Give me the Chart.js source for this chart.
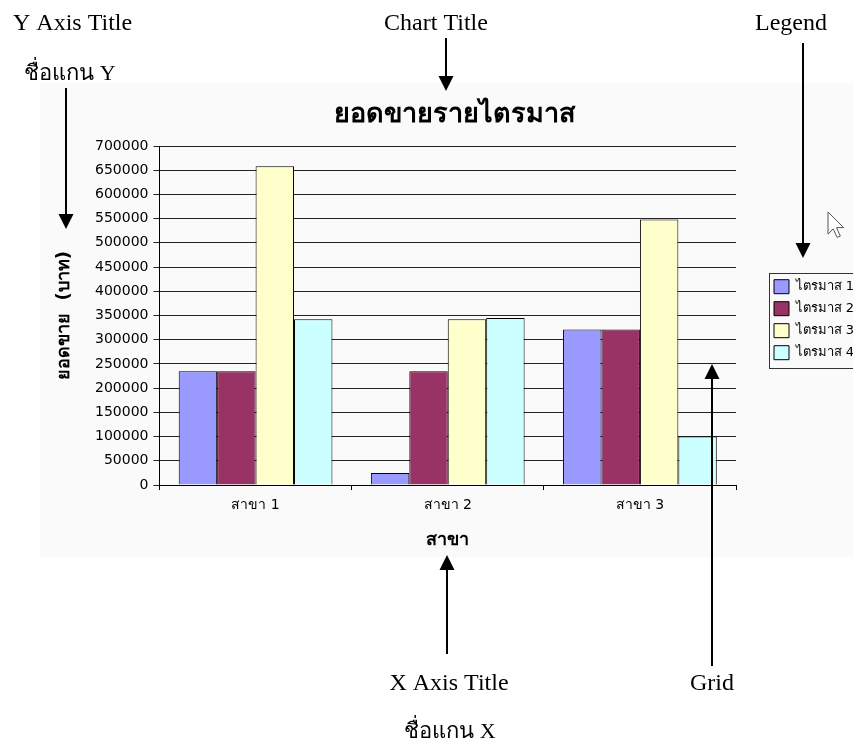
<!DOCTYPE html>
<html lang="th">
<head>
<meta charset="utf-8">
<title>ยอดขายรายไตรมาส</title>
<script src="https://cdn.jsdelivr.net/npm/chart.js@4.4.1/dist/chart.umd.min.js"></script>
<style>
  html, body { margin: 0; padding: 0; background: #fff; overflow: hidden; width: 853px; height: 746px; }
  #wrap { position: relative; width: 853px; height: 746px; overflow: hidden; }
  #wrap canvas { position: absolute; left: 0; top: 0; }
</style>
</head>
<body>
<div id="wrap"><canvas id="salesChart" width="868" height="746"></canvas></div>
<script>
// Quarterly sales per branch (baht)
const categories = ['สาขา 1', 'สาขา 2', 'สาขา 3'];
const quarterNames = ['ไตรมาส 1', 'ไตรมาส 2', 'ไตรมาส 3', 'ไตรมาส 4'];
const quarter1 = [235000, 25000, 321000];
const quarter2 = [235000, 235000, 321000];
const quarter3 = [658000, 342000, 548000];
const quarter4 = [342000, 345000, 100000];
const yTickValues = [0, 50000, 100000, 150000, 200000, 250000, 300000, 350000,
                     400000, 450000, 500000, 550000, 600000, 650000, 700000];

const quarterColors = ['#9999FF', '#993366', '#FFFFCC', '#CCFFFF'];
const seriesValues = [quarter1, quarter2, quarter3, quarter4];

const UI_FONT = "Tahoma, 'DejaVu Sans', 'Noto Sans', sans-serif";
const NOTE_FONT = "'Liberation Serif', 'Times New Roman', serif";

// Light chart-area fill behind everything
const chartBackground = {
  id: 'chartBackground',
  beforeDraw(chart) {
    const ctx = chart.ctx;
    ctx.save();
    ctx.fillStyle = '#fafafa';
    ctx.fillRect(40, 83, chart.width - 40, 474);
    ctx.restore();
  }
};

// Centre the title over the whole chart box, and put the legend to the
// right of the plot, boxed like a spreadsheet legend
const sideLegend = {
  id: 'sideLegend',
  afterLayout(chart) {
    const tb = chart.titleBlock;
    if (tb) {
      tb.left = 40;
      tb.right = chart.width;
      tb.width = tb.right - tb.left;
    }
    const lg = chart.legend;
    const w = lg.width, h = lg.height;
    lg.left = chart.chartArea.right + 30;
    lg.right = lg.left + w;
    lg.top = 271.7;
    lg.bottom = lg.top + h;
  },
  afterDraw(chart) {
    const lg = chart.legend;
    const boxes = lg.legendHitBoxes;
    if (!boxes || !boxes.length) return;
    const first = boxes[0], last = boxes[boxes.length - 1];
    const ctx = chart.ctx;
    ctx.save();
    ctx.strokeStyle = '#333';
    ctx.lineWidth = 1;
    const x = Math.round(first.left - 5) + 0.5;
    const y = Math.round(first.top - 7) + 0.5;
    const yb = Math.round(last.top + last.height + 8) + 0.5;
    ctx.strokeRect(x, y, chart.width + 10 - x, yb - y);
    ctx.restore();
  }
};

// Callout labels and arrows naming the parts of the chart
const callouts = {
  id: 'callouts',
  afterDraw(chart) {
    const ctx = chart.ctx;
    ctx.save();
    ctx.fillStyle = '#000';
    ctx.strokeStyle = '#000';
    ctx.textBaseline = 'alphabetic';

    const text = (s, x, y, size, align) => {
      ctx.font = size + 'px ' + NOTE_FONT;
      ctx.textAlign = align;
      ctx.fillText(s, x, y);
    };
    const arrow = (x, tail, tip) => {
      const dir = Math.sign(tip - tail);
      const head = 15, hw = 7.5;
      ctx.lineWidth = 2;
      ctx.beginPath();
      ctx.moveTo(x, tail);
      ctx.lineTo(x, tip - dir * head);
      ctx.stroke();
      ctx.beginPath();
      ctx.moveTo(x, tip);
      ctx.lineTo(x - hw, tip - dir * head);
      ctx.lineTo(x + hw, tip - dir * head);
      ctx.closePath();
      ctx.fill();
    };

    text('Y Axis Title', 13, 30, 24, 'left');
    text('ชื่อแกน Y', 70, 80, 22, 'center');
    arrow(66, 88, 229);

    text('Chart Title', 436, 30, 24, 'center');
    arrow(446, 38, 91);

    text('Legend', 791, 30, 24, 'center');
    arrow(803, 43, 258);

    arrow(447, 654, 555);
    text('X Axis Title', 449, 690, 24, 'center');
    text('ชื่อแกน X', 450, 738, 22, 'center');

    arrow(712, 666, 364);
    text('Grid', 712, 690, 24, 'center');

    // mouse pointer
    const px = 828, py = 212, k = 1.3;
    const pts = [[0, 0], [0, 17], [4, 13], [7, 19.5], [9.5, 18.5], [6.5, 12], [12, 12]];
    ctx.beginPath();
    pts.forEach(([a, b], i) => {
      const X = px + a * k, Y = py + b * k;
      if (i === 0) ctx.moveTo(X, Y); else ctx.lineTo(X, Y);
    });
    ctx.closePath();
    ctx.fillStyle = '#fff';
    ctx.fill();
    ctx.lineWidth = 1;
    ctx.strokeStyle = '#555';
    ctx.stroke();
    ctx.restore();
  }
};

new Chart(document.getElementById('salesChart'), {
  type: 'bar',
  data: {
    labels: categories,
    datasets: quarterNames.map((name, i) => ({
      label: name,
      data: seriesValues[i],
      backgroundColor: quarterColors[i],
      borderColor: '#000',
      borderWidth: 1,
      categoryPercentage: 0.8,
      barPercentage: 1.0
    }))
  },
  options: {
    responsive: false,
    animation: false,
    events: [],
    layout: { padding: { left: 40, top: 83, right: 132, bottom: 189 } },
    plugins: {
      title: {
        display: true,
        text: 'ยอดขายรายไตรมาส',
        color: '#000',
        font: { family: UI_FONT, size: 27, weight: 'bold' },
        padding: { top: 15.3, bottom: 15.3 }
      },
      legend: {
        display: true,
        position: 'chartArea',
        align: 'start',
        labels: {
          color: '#000',
          font: { family: UI_FONT, size: 13 },
          boxWidth: 15,
          boxHeight: 14,
          padding: 8
        }
      },
      tooltip: { enabled: false }
    },
    scales: {
      x: {
        afterFit(scale) { scale.height = 72; },
        grid: { display: true, drawOnChartArea: false, drawTicks: true, tickLength: 5, color: '#000' },
        border: { display: true, color: '#000', width: 1 },
        ticks: { color: '#000', padding: 7, font: { family: UI_FONT, size: 14 } },
        title: {
          display: true,
          text: 'สาขา',
          color: '#000',
          font: { family: UI_FONT, size: 18, weight: 'bold' },
          padding: { top: 0, bottom: 6 }
        }
      },
      y: {
        min: 0,
        max: 700000,
        afterFit(scale) { scale.width = 119.5; },
        afterBuildTicks(scale) { scale.ticks = yTickValues.map(v => ({ value: v })); },
        grid: { color: '#222', tickLength: 6, drawTicks: true },
        border: { display: true, color: '#000', width: 1 },
        ticks: {
          color: '#000',
          padding: 5,
          font: { family: UI_FONT, size: 14 },
          callback: v => String(v)
        },
        title: {
          display: true,
          text: 'ยอดขาย  (บาท)',
          color: '#000',
          font: { family: UI_FONT, size: 18, weight: 'bold' },
          padding: { top: 14, bottom: 0 }
        }
      }
    }
  },
  plugins: [chartBackground, sideLegend, callouts]
});
</script>
</body>
</html>
